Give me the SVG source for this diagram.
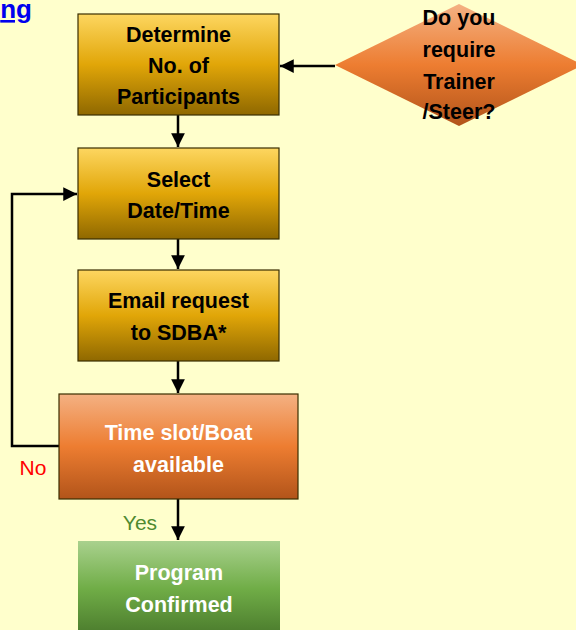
<svg xmlns="http://www.w3.org/2000/svg" width="576" height="630" viewBox="0 0 576 630">
<defs>
<linearGradient id="gold" x1="0" y1="0" x2="0" y2="1">
<stop offset="0" stop-color="#fdd660"/>
<stop offset="0.5" stop-color="#e1a608"/>
<stop offset="1" stop-color="#8f6800"/>
</linearGradient>
<linearGradient id="orange" x1="0" y1="0" x2="0" y2="1">
<stop offset="0" stop-color="#f4b183"/>
<stop offset="0.5" stop-color="#ed7d31"/>
<stop offset="1" stop-color="#b2541a"/>
</linearGradient>
<linearGradient id="green" x1="0" y1="0" x2="0" y2="1">
<stop offset="0" stop-color="#a9d18e"/>
<stop offset="0.5" stop-color="#70ad47"/>
<stop offset="1" stop-color="#4a7a2c"/>
</linearGradient>
<marker id="arr" viewBox="0 0 10 10" refX="10" refY="5" markerWidth="5.5" markerHeight="5.5" orient="auto" markerUnits="strokeWidth">
<path d="M0,0 L10,5 L0,10 z" fill="#000"/>
</marker>
<style>
.box{stroke:#3a2e00;stroke-width:1.2}
.t{font-family:"Liberation Sans",Arial,sans-serif;font-weight:bold;font-size:21.5px;text-anchor:middle}
.dark{fill:#000}
.light{fill:#fff}
.lbl{font-family:"Liberation Sans",Arial,sans-serif;font-size:21px;text-anchor:middle}
.conn{stroke:#000;stroke-width:2.5;fill:none;marker-end:url(#arr)}
</style>
</defs>
<rect width="576" height="630" fill="#ffffcc"/>
<text x="32" y="18" font-family="Liberation Sans,Arial,sans-serif" font-weight="bold" font-size="26" fill="#0000ee" text-anchor="end" text-decoration="underline">ng</text>

<g id="connectors">
<line class="conn" x1="178" y1="115" x2="178" y2="147"/>
<line class="conn" x1="178" y1="239" x2="178" y2="269"/>
<line class="conn" x1="178" y1="361" x2="178" y2="393"/>
<line class="conn" x1="178" y1="499" x2="178" y2="540"/>
<line class="conn" x1="335" y1="66" x2="280" y2="66"/>
<polyline class="conn" points="59,446 12,446 12,194 77,194"/>
</g>

<g id="n1">
<rect class="box" x="78" y="14" width="201" height="101" fill="url(#gold)"/>
<text class="t dark" x="178.5" y="42">Determine</text>
<text class="t dark" x="178.5" y="73">No. of</text>
<text class="t dark" x="178.5" y="104">Participants</text>
</g>

<g id="n2">
<rect class="box" x="78" y="148" width="201" height="91" fill="url(#gold)"/>
<text class="t dark" x="178.5" y="187">Select</text>
<text class="t dark" x="178.5" y="218">Date/Time</text>
</g>

<g id="n3">
<rect class="box" x="78" y="270" width="201" height="91" fill="url(#gold)"/>
<text class="t dark" x="178.5" y="308">Email request</text>
<text class="t dark" x="178.5" y="340">to SDBA*</text>
</g>

<g id="n4">
<rect class="box" x="59" y="394" width="239" height="105" fill="url(#orange)" stroke="#3a2010"/>
<text class="t light" x="178.5" y="440">Time slot/Boat</text>
<text class="t light" x="178.5" y="472">available</text>
</g>

<g id="n5">
<rect x="78" y="541" width="202" height="95" fill="url(#green)"/>
<text class="t light" x="179" y="580">Program</text>
<text class="t light" x="179" y="612">Confirmed</text>
</g>

<g id="n6">
<polygon points="459,4 583,65 459,126 335,65" fill="url(#orange)"/>
<text class="t dark" x="459" y="25">Do you</text>
<text class="t dark" x="459" y="57">require</text>
<text class="t dark" x="459" y="89">Trainer</text>
<text class="t dark" x="459" y="119">/Steer?</text>
</g>

<g id="labels">
<text class="lbl" x="33" y="475" fill="#ff0000">No</text>
<text class="lbl" x="140" y="530" fill="#4f8a30">Yes</text>
</g>
</svg>
